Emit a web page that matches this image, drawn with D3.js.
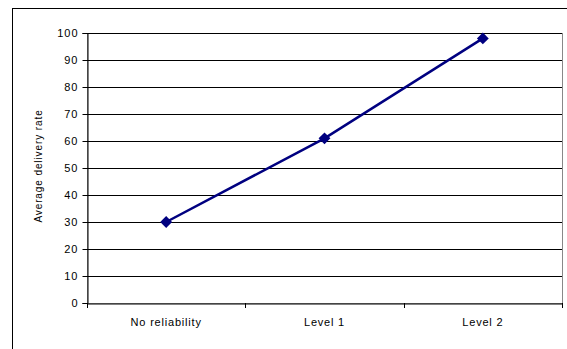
<!DOCTYPE html>
<html><head><meta charset="utf-8">
<script src="https://cdn.jsdelivr.net/npm/d3@7"></script>
<style>body{margin:0;background:#fff}svg{display:block}text{font-family:"Liberation Sans",Arial,sans-serif;fill:#000}</style>
</head><body>
<svg id="c" width="567" height="349"></svg>
<script>
const categories = ["No reliability", "Level 1", "Level 2"];
const values = [30, 61, 98];
const yTicks = [0,10,20,30,40,50,60,70,80,90,100];
const yTitle = "Average delivery rate";

const svg = d3.select("#c");
svg.append("rect").attr("x",12.5).attr("y",8.5).attr("width",570).attr("height",360)
  .attr("fill","#fff").attr("stroke","#000").attr("stroke-width",1);

const L=87, R=562, T=33, B=303;
const x = d3.scaleBand().domain(categories).range([L,R]);
const y = d3.scaleLinear().domain([0,100]).range([B,T]);

// plot area border
svg.append("rect").attr("x",L+0.5).attr("y",T+0.5).attr("width",R-L).attr("height",B-T)
  .attr("fill","#fff").attr("stroke","#888").attr("stroke-width",1);

// gridlines
svg.append("g").selectAll("line").data(yTicks.filter(d=>d>0)).join("line")
  .attr("x1",L).attr("x2",R).attr("y1",d=>Math.round(y(d))+0.5).attr("y2",d=>Math.round(y(d))+0.5)
  .attr("stroke","#000").attr("stroke-width",1);

// y axis
const ya = svg.append("g").attr("transform",`translate(${L+0.5},0)`)
  .call(d3.axisLeft(y).tickValues(yTicks).tickSize(5).tickPadding(4).tickFormat(d3.format("d")));
ya.selectAll("path,line").attr("stroke","#000");
ya.selectAll("text").style("font-size","11px").style("letter-spacing","1px")
  .attr("font-family","Liberation Sans, Arial, sans-serif");

// x axis
const xa = svg.append("g").attr("transform",`translate(0,${B+0.5})`)
  .call(d3.axisBottom(x).tickSize(0).tickPadding(15));
xa.selectAll("path").attr("stroke","#000");
xa.selectAll("text").style("font-size","11px").style("letter-spacing","0.8px")
  .attr("font-family","Liberation Sans, Arial, sans-serif");
// boundary ticks
const bounds = [L, ...categories.map(c=>x(c)+x.bandwidth())];
svg.append("g").selectAll("line").data(bounds).join("line")
  .attr("x1",d=>Math.round(d)+0.5).attr("x2",d=>Math.round(d)+0.5).attr("y1",B).attr("y2",B+5)
  .attr("stroke","#000");

// title
svg.append("text").attr("transform",`translate(42,166) rotate(-90)`)
  .attr("text-anchor","middle").style("font-size","10px").style("letter-spacing","0.9px").text(yTitle);

// line
const cx = c=>x(c)+x.bandwidth()/2;
svg.append("path").datum(values)
  .attr("d", d3.line().x((d,i)=>cx(categories[i])).y(d=>y(d)))
  .attr("fill","none").attr("stroke","#000080").attr("stroke-width",2.5);
svg.append("g").selectAll("path").data(values).join("path")
  .attr("d", d3.symbol(d3.symbolSquare, 70))
  .attr("transform",(d,i)=>`translate(${cx(categories[i])},${y(d)}) rotate(45)`)
  .attr("fill","#000080");
</script>
</body></html>
